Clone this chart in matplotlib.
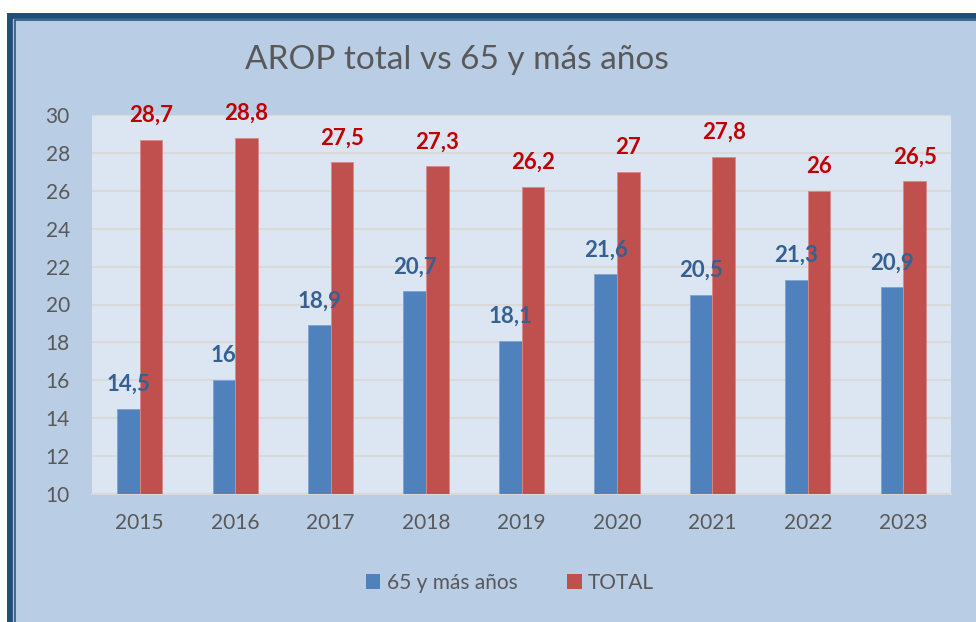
import matplotlib.pyplot as plt
import numpy as np
from matplotlib.patches import Rectangle, Patch

years = ['2015', '2016', '2017', '2018', '2019', '2020', '2021', '2022', '2023']
mayores_65 = [14.5, 16, 18.9, 20.7, 18.1, 21.6, 20.5, 21.3, 20.9]
total = [28.7, 28.8, 27.5, 27.3, 26.2, 27, 27.8, 26, 26.5]
yticks = [10, 12, 14, 16, 18, 20, 22, 24, 26, 28, 30]

plt.rcParams['font.family'] = ['Lato', 'DejaVu Sans']

azul = '#4F81BD'
rojo = '#C0504D'
gris = '#595959'


def etiqueta(v):
    # coma decimal, sin ",0"
    s = f'{v:g}'
    return s.replace('.', ',')


fig = plt.figure(figsize=(9.76, 6.22), dpi=100, facecolor='white')

# marco azul oscuro (solo se ve arriba e izquierda)
W, H = 976, 622
fig.patches.append(Rectangle((10 / W, -0.1), 1.2, 1 - 15.5 / H + 0.1, transform=fig.transFigure,
                             facecolor='#B9CDE5', edgecolor='#1F4E79', linewidth=4.3, zorder=-3))
fig.patches.append(Rectangle((13.2 / W, -0.1), 1.2, 1 - 18.5 / H + 0.1, transform=fig.transFigure,
                             facecolor='none', edgecolor='#A9C0DD', linewidth=0.9, zorder=-2))
fig.patches.append(Rectangle((14.8 / W, -0.1), 1.2, 1 - 20.3 / H + 0.1, transform=fig.transFigure,
                             facecolor='none', edgecolor='#1F4E79', linewidth=1.1, zorder=-2))

ax = fig.add_axes([92 / W, 1 - 494 / H, (951 - 92) / W, (494 - 115) / H])
ax.set_facecolor('#DCE6F2')

x = np.arange(len(years))
w = 0.237
b1 = ax.bar(x - w / 2, np.array(mayores_65) - 10, w, bottom=10, color=azul,
            edgecolor='#7FA3CF', linewidth=0.6, zorder=3)
b2 = ax.bar(x + w / 2, np.array(total) - 10, w, bottom=10, color=rojo,
            edgecolor='#D98A88', linewidth=0.6, zorder=3)

for xi, v in zip(x, mayores_65):
    ax.annotate(etiqueta(v), (xi - w / 2, v), xytext=(0, 10), textcoords='offset points',
                ha='center', va='bottom', fontsize=16, fontweight='bold', color='#366092', zorder=4)
for xi, v in zip(x, total):
    ax.annotate(etiqueta(v), (xi + w / 2, v), xytext=(0, 10), textcoords='offset points',
                ha='center', va='bottom', fontsize=16, fontweight='bold', color='#C00000', zorder=4)

ax.set_xlim(-0.5, len(years) - 0.5)
ax.set_ylim(10, 30)
ax.set_yticks(yticks)
ax.set_xticks(x)
ax.set_xticklabels(years)
ax.tick_params(axis='both', length=0, labelsize=15, labelcolor=gris)
ax.tick_params(axis='y', pad=16)
ax.tick_params(axis='x', pad=14)
ax.grid(axis='y', color='#D9D9D9', linewidth=1.5, zorder=0)
ax.set_axisbelow(True)
for s in ['left', 'right', 'top']:
    ax.spines[s].set_visible(False)
ax.spines['bottom'].set_color('#D9D9D9')
ax.spines['bottom'].set_linewidth(1.5)

fig.text(457 / W, 1 - 60 / H, 'AROP total vs 65 y más años', ha='center', va='center',
         fontsize=24, color=gris)

handles = [Patch(facecolor=azul), Patch(facecolor=rojo)]
fig.legend(handles, ['65 y más años', 'TOTAL'], loc='center', bbox_to_anchor=(510 / W, 1 - 583 / H),
           ncol=2, frameon=False, fontsize=15, labelcolor=gris, handlelength=0.7, handleheight=0.7,
           handletextpad=0.3, columnspacing=2.4)

fig.savefig('out.png', dpi=100, facecolor='white')
